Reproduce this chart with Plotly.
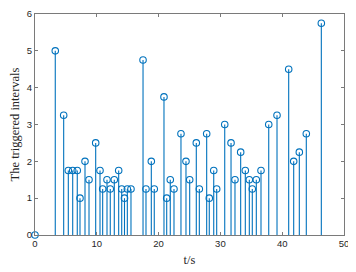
import plotly.graph_objects as go

times = [0, 3.28, 4.64, 5.39, 6.10, 6.84, 7.28, 8.09, 8.74, 9.82, 10.52, 10.95, 11.65,
         12.18, 12.83, 13.54, 14.03, 14.48, 14.94, 15.53, 17.48, 17.96, 18.82, 19.30,
         20.87, 21.31, 21.89, 22.49, 23.62, 24.43, 25.03, 26.10, 26.59, 27.78, 28.20,
         28.92, 29.40, 30.70, 31.72, 32.36, 33.28, 34.03, 34.68, 35.16, 35.81, 36.57,
         37.82, 39.16, 41.05, 41.86, 42.77, 43.90, 46.33]
intervals = [0, 5, 3.25, 1.75, 1.75, 1.75, 1.0, 2.0, 1.5, 2.5, 1.75, 1.25, 1.5,
             1.25, 1.5, 1.75, 1.25, 1.0, 1.25, 1.25, 4.75, 1.25, 2.0, 1.25,
             3.75, 1.0, 1.5, 1.25, 2.75, 2.0, 1.5, 2.5, 1.25, 2.75, 1.0,
             1.75, 1.25, 3.0, 2.5, 1.5, 2.25, 1.75, 1.5, 1.25, 1.5, 1.75,
             3.0, 3.25, 4.5, 2.0, 2.25, 2.75, 5.75]
x_ticks = [0, 10, 20, 30, 40, 50]
y_ticks = [0, 1, 2, 3, 4, 5, 6]

blue = "#0072BD"
axc = "#7a7a7a"

sx, sy = [], []
for t, v in zip(times, intervals):
    sx += [t, t, None]
    sy += [0, v, None]

fig = go.Figure()
fig.add_trace(go.Scatter(x=sx, y=sy, mode="lines", line=dict(color=blue, width=1.1),
                         hoverinfo="skip", showlegend=False, cliponaxis=False))
fig.add_trace(go.Scatter(x=times, y=intervals, mode="markers",
                         marker=dict(symbol="circle-open", size=6.5, color=blue,
                                     line=dict(width=1.1, color=blue)),
                         showlegend=False, cliponaxis=False))

# page body has an 8px default margin, so the figure is sized/positioned to compensate
fig.update_layout(
    width=348, height=264,
    margin=dict(l=27, r=12, t=6, b=37),
    paper_bgcolor="white", plot_bgcolor="white",
    font=dict(family="Liberation Sans, Arial", size=9.5, color="#262626"),
    xaxis=dict(range=[0, 50], tickvals=x_ticks, ticks="inside", ticklen=3,
               tickcolor=axc, showline=True, linecolor=axc, linewidth=1, mirror="ticks",
               showgrid=False, zeroline=False, automargin=False,
               title=dict(text="t/s", font=dict(family="Liberation Serif, DejaVu Serif", size=12.5),
                          standoff=6)),
    yaxis=dict(range=[0, 6], tickvals=y_ticks, ticks="inside", ticklen=3,
               tickcolor=axc, showline=True, linecolor=axc, linewidth=1, mirror="ticks",
               showgrid=False, zeroline=False, automargin=False,
               title=dict(text="The triggered intervals",
                          font=dict(family="Liberation Serif, DejaVu Serif", size=12.5),
                          standoff=4)),
)

fig.write_html("out.html")
